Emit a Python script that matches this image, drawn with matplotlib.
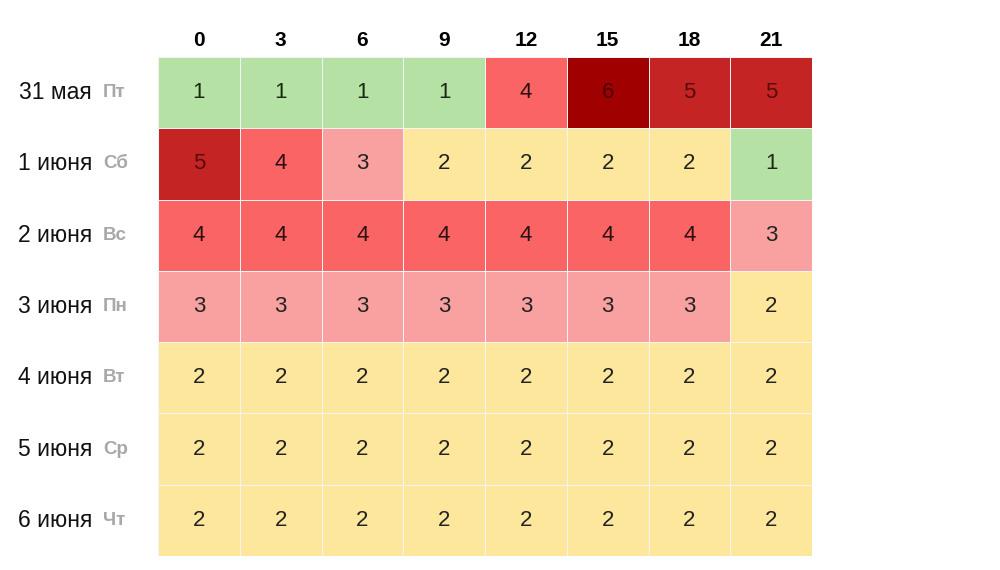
import matplotlib.pyplot as plt
from matplotlib.colors import ListedColormap, BoundaryNorm
import numpy as np

hours = ["0", "3", "6", "9", "12", "15", "18", "21"]
dates = ["31 мая", "1 июня", "2 июня", "3 июня", "4 июня", "5 июня", "6 июня"]
weekdays = ["Пт", "Сб", "Вс", "Пн", "Вт", "Ср", "Чт"]
values = [
    [1, 1, 1, 1, 4, 6, 5, 5],
    [5, 4, 3, 2, 2, 2, 2, 1],
    [4, 4, 4, 4, 4, 4, 4, 3],
    [3, 3, 3, 3, 3, 3, 3, 2],
    [2, 2, 2, 2, 2, 2, 2, 2],
    [2, 2, 2, 2, 2, 2, 2, 2],
    [2, 2, 2, 2, 2, 2, 2, 2],
]

plt.rcParams["font.family"] = ["Liberation Sans", "DejaVu Sans"]

cell_colors = ["#b5e2a4", "#fce79c", "#f9a0a0", "#fb6464", "#c42424", "#a00000"]
text_colors = {1: "#1a2a14", 2: "#222222", 3: "#222222", 4: "#2a1010",
               5: "#5a0a0a", 6: "#4a0000"}

data = np.array(values)
cmap = ListedColormap(cell_colors)
norm = BoundaryNorm(np.arange(0.5, 7.5, 1), cmap.N)

fig = plt.figure(figsize=(10, 5.7), dpi=100)
ax = fig.add_axes([0.158, 0.0246, 0.654, 0.8754])
ax.pcolormesh(data, cmap=cmap, norm=norm, edgecolors="#f4f4f4", linewidth=0.5)
ax.set_xlim(0, len(hours))
ax.set_ylim(len(dates), 0)
ax.set_xticks([])
ax.set_yticks([])
for s in ax.spines.values():
    s.set_visible(False)

for i in range(len(dates)):
    for j in range(len(hours)):
        v = data[i, j]
        ax.text(j + 0.5, i + 0.5, str(v), ha="center", va="center",
                fontsize=16, color=text_colors[v])

for j, h in enumerate(hours):
    ax.text(j + 0.5, -0.23, h, ha="center", va="center", fontsize=15,
            fontweight="bold", color="black")

for i, (d, w) in enumerate(zip(dates, weekdays)):
    ax.annotate(d, xy=(0, i + 0.5), xycoords=("axes fraction", "data"),
                xytext=(-66, 0), textcoords="offset pixels",
                ha="right", va="center", fontsize=16.5, color="#111111")
    ax.annotate(w, xy=(0, i + 0.5), xycoords=("axes fraction", "data"),
                xytext=(-55, 0), textcoords="offset pixels",
                ha="left", va="center", fontsize=13.5, fontweight="bold",
                color="#a8a8a8")

fig.savefig("out.png", dpi=100)
